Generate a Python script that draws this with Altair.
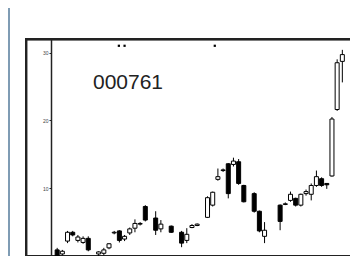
import altair as alt
import pandas as pd

label = "000761"

days = [0, 1, 2, 3, 4, 5, 6, 8, 9, 10, 11, 12, 13, 14, 15, 16, 17, 19, 20, 22,
        24, 25, 26, 27, 29, 30, 31, 32, 33, 34, 35, 36, 38, 39, 40, 43, 44, 45, 46, 47,
        48, 49, 50, 51, 52, 53, 54, 55]
opens = [0.9, 0.3, 2.2, 3.5, 2.3, 2.0, 2.6, 0.3, 0.4, 1.2, 3.4, 3.7, 2.5, 3.4, 4.1, 4.7, 7.3, 5.6, 4.0, 4.4,
         3.5, 2.3, 4.2, 4.5, 5.7, 7.5, 11.3, 12.6, 13.6, 13.5, 13.9, 10.4, 9.2, 6.6, 2.9, 7.5, 7.6, 8.2, 8.5, 7.5,
         9.2, 9.1, 10.4, 11.4, 10.7, 11.8, 21.6, 28.7]
closes = [0.0, 0.7, 3.5, 3.1, 2.8, 2.6, 0.9, 0.6, 0.9, 1.8, 3.5, 2.3, 2.9, 4.0, 4.8, 4.8, 5.3, 3.8, 4.7, 3.5,
          1.9, 3.2, 4.5, 4.7, 8.6, 9.4, 11.7, 12.7, 9.2, 14.0, 10.7, 8.0, 6.6, 3.7, 3.8, 5.1, 7.7, 9.1, 7.5, 9.1,
          9.5, 10.4, 11.7, 10.4, 10.5, 20.2, 28.5, 29.7]
highs = [1.2, 0.9, 3.7, 3.7, 3.1, 2.9, 2.9, 0.7, 1.2, 1.9, 3.7, 3.8, 3.1, 4.2, 5.4, 5.0, 7.5, 6.6, 5.3, 4.5,
         3.7, 4.1, 4.7, 4.8, 8.8, 9.5, 12.9, 12.9, 13.7, 14.5, 14.3, 10.5, 9.4, 6.7, 5.0, 7.6, 7.9, 9.5, 8.6, 9.2,
         9.8, 10.7, 12.6, 11.6, 10.7, 20.5, 29.0, 30.4]
lows = [0.0, 0.1, 1.9, 2.9, 2.0, 1.8, 0.7, 0.0, 0.1, 1.0, 3.2, 2.0, 2.2, 3.1, 3.5, 4.5, 5.1, 3.1, 3.5, 3.4,
        1.3, 1.9, 4.1, 4.4, 5.6, 7.3, 11.1, 12.4, 8.5, 13.2, 10.5, 7.9, 6.4, 3.5, 1.9, 3.8, 7.5, 8.0, 7.3, 7.3,
        8.9, 8.2, 10.2, 10.2, 9.9, 11.7, 21.4, 25.6]

marker_days = [11.9, 13.0, 30.4]
marker_levels = [31.0, 31.0, 31.0]

y_ticks = [10, 20, 30]
y_max = 32

df = pd.DataFrame({"day": days, "open": opens, "close": closes, "high": highs, "low": lows})
df["dir"] = ["up" if c >= o else "down" for o, c in zip(opens, closes)]
mk = pd.DataFrame({"day": marker_days, "level": marker_levels})

W, H = 324, 217
first_px, step = 27.0, 5.35
xscale = alt.Scale(domain=[-first_px / step, (W - first_px) / step], nice=False, zero=False)
yscale = alt.Scale(domain=[0, y_max], nice=False, zero=False)
yaxis = alt.Axis(values=y_ticks, offset=-25, labelFontSize=5, labelColor="#444",
                 tickSize=2, tickColor="#222", domainColor="#222", domainWidth=1.5,
                 grid=False, title=None, labelPadding=1, labelFont="Liberation Sans")
y_edge = alt.Axis(orient="left", labels=False, ticks=False, grid=False, title=None,
                  domain=True, domainColor="#222", domainWidth=1.5)
x_top = alt.Axis(orient="top", labels=False, ticks=False, grid=False, title=None,
                 domain=True, domainColor="#222", domainWidth=1.5)

base = alt.Chart(df).encode(x=alt.X("day:Q", scale=xscale, axis=x_top))
wick = base.mark_rule(color="black", strokeWidth=1).encode(
    y=alt.Y("low:Q", scale=yscale, axis=yaxis), y2="high:Q")
body = base.mark_bar(size=4, stroke="black", strokeWidth=1).encode(
    y=alt.Y("open:Q", scale=yscale, axis=y_edge), y2="close:Q",
    fill=alt.Fill("dir:N", scale=alt.Scale(domain=["up", "down"], range=["white", "black"]), legend=None))

markers = alt.Chart(mk).mark_square(size=5, color="black", opacity=1).encode(
    x=alt.X("day:Q", scale=xscale, axis=x_top), y=alt.Y("level:Q", scale=yscale, axis=y_edge))

title = alt.Chart(pd.DataFrame({"t": [label]})).mark_text(
    fontSize=21, font="Liberation Sans", color="#222", align="center", baseline="middle").encode(
    text="t:N", x=alt.value(102), y=alt.value(44))

one = pd.DataFrame({"a": [0]})
blue = alt.Chart(one).mark_rule(color="#7f9cb4", strokeWidth=2).encode(
    x=alt.value(-17), y=alt.value(-31), y2=alt.value(226))
frame_top = alt.Chart(one).mark_rule(color="#222", strokeWidth=2).encode(
    x=alt.value(-1), x2=alt.value(W + 20), y=alt.value(0))
frame_bottom = alt.Chart(one).mark_rule(color="#222", strokeWidth=2).encode(
    x=alt.value(-1), x2=alt.value(W + 20), y=alt.value(H))
frame_left = alt.Chart(one).mark_rule(color="#222", strokeWidth=2).encode(
    x=alt.value(0), y=alt.value(-1), y2=alt.value(H + 1))

chart = alt.layer(blue, frame_top, frame_bottom, frame_left, wick, body, markers, title).resolve_axis(
    y="independent", x="independent").properties(
    width=W, height=H,
    background="white",
    autosize=alt.AutoSizeParams(type="none"),
    padding={"left": 18, "top": 31, "right": 0, "bottom": 0},
).configure_view(stroke=None)

chart.save("out.html", embed_options={"renderer": "svg", "actions": False})
